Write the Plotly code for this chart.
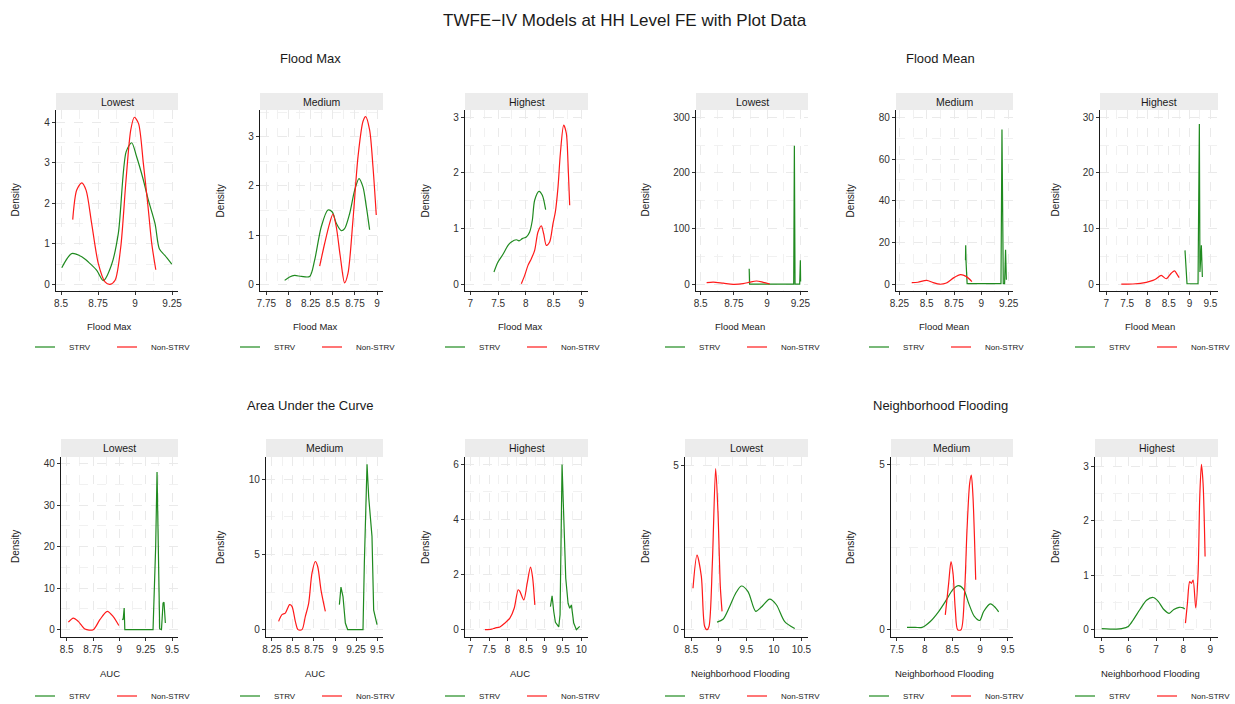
import plotly.graph_objects as go

# ------------------------------------------------------------------ data
main_title = "TWFE\u2212IV Models at HH Level FE with Plot Data"
group_titles = ["Flood Max", "Flood Mean", "Area Under the Curve", "Neighborhood Flooding"]
x_titles = ["Flood Max", "Flood Mean", "AUC", "Neighborhood Flooding"]
facets = ["Lowest", "Medium", "Highest"]
series_names = ["STRV", "Non-STRV"]
y_title = "Density"

# Flood Max
fmax_low_strv_x = [8.505, 8.572, 8.64, 8.685, 8.74, 8.786, 8.84, 8.887, 8.94, 8.977, 9.01, 9.056, 9.09, 9.135, 9.164, 9.2, 9.248]
fmax_low_strv_y = [0.41, 0.76, 0.68, 0.55, 0.35, 0.09, 0.47, 1.26, 3.28, 3.5, 3.16, 2.58, 2.08, 1.5, 0.88, 0.72, 0.5]
fmax_low_non_x = [8.579, 8.606, 8.64, 8.669, 8.707, 8.752, 8.797, 8.831, 8.865, 8.903, 8.939, 8.971, 8.995, 9.023, 9.056, 9.09, 9.113, 9.14]
fmax_low_non_y = [1.6, 2.33, 2.51, 2.33, 1.5, 0.51, 0.06, 0.0, 0.1, 0.91, 2.58, 3.82, 4.13, 3.98, 2.99, 1.83, 1.0, 0.36]

fmax_med_strv_x = [7.957, 8.013, 8.07, 8.145, 8.239, 8.295, 8.37, 8.445, 8.494, 8.539, 8.596, 8.633, 8.69, 8.746, 8.795, 8.84, 8.878, 8.915]
fmax_med_strv_y = [0.08, 0.15, 0.18, 0.16, 0.16, 0.49, 1.17, 1.51, 1.47, 1.24, 1.09, 1.13, 1.44, 1.91, 2.15, 1.98, 1.58, 1.11]
fmax_med_non_x = [8.352, 8.408, 8.464, 8.502, 8.539, 8.585, 8.633, 8.671, 8.727, 8.784, 8.84, 8.87, 8.915, 8.953, 8.99]
fmax_med_non_y = [0.37, 0.83, 1.24, 1.43, 1.17, 0.56, 0.03, 0.22, 1.30, 2.59, 3.31, 3.41, 3.14, 2.39, 1.41]

fmax_high_strv_x = [7.426, 7.498, 7.589, 7.679, 7.739, 7.829, 7.877, 7.937, 8.009, 8.069, 8.117, 8.159, 8.237, 8.297, 8.357]
fmax_high_strv_y = [0.22, 0.40, 0.54, 0.70, 0.76, 0.80, 0.78, 0.82, 0.85, 0.94, 1.15, 1.51, 1.67, 1.60, 1.34]
fmax_high_non_x = [7.919, 7.979, 8.039, 8.099, 8.159, 8.219, 8.279, 8.321, 8.369, 8.429, 8.489, 8.532, 8.58, 8.622, 8.682, 8.73, 8.76, 8.79]
fmax_high_non_y = [0.01, 0.16, 0.34, 0.46, 0.61, 0.94, 1.05, 0.91, 0.70, 0.76, 1.09, 1.30, 1.75, 2.35, 2.86, 2.71, 2.17, 1.42]

# Flood Mean
fmean_low_strv_x = [8.865, 8.868, 9.200, 9.205, 9.210, 9.245, 9.250, 9.252]
fmean_low_strv_y = [28, 0.5, 0.5, 249, 0.5, 0.5, 43, 5]
fmean_low_non_x = [8.545, 8.595, 8.67, 8.745, 8.82, 8.87, 8.92, 8.97, 9.02]
fmean_low_non_y = [3, 4, 2, 0, 1.2, 4, 6, 3.6, 0.6]

fmean_med_strv_x = [8.855, 8.857, 8.860, 8.870, 9.180, 9.189, 9.201, 9.213, 9.222, 9.229]
fmean_med_strv_y = [11.5, 18.7, 11, 0.3, 0.3, 74.2, 0.3, 0.3, 16.6, 2.2]
fmean_med_non_x = [8.363, 8.42, 8.50, 8.56, 8.62, 8.68, 8.75, 8.81, 8.86, 8.914]
fmean_med_non_y = [0.8, 1.0, 1.9, 0.8, 0.05, 0.6, 3.2, 4.6, 3.8, 1.3]

fmean_high_strv_x = [8.891, 8.939, 9.204, 9.236, 9.25, 9.284, 9.308]
fmean_high_strv_y = [6.1, 0.1, 0.1, 28.8, 2.2, 7.0, 1.3]
fmean_high_non_x = [7.36, 7.64, 7.96, 8.12, 8.2, 8.32, 8.44, 8.56, 8.64, 8.7, 8.75]
fmean_high_non_y = [0.02, 0.06, 0.35, 0.7, 1.0, 1.6, 1.0, 2.0, 2.4, 1.8, 1.2]

# AUC
auc_low_strv_x = [9.027, 9.036, 9.046, 9.052, 9.32, 9.345, 9.358, 9.37, 9.383, 9.40, 9.415, 9.424, 9.437]
auc_low_strv_y = [2.6, 2.4, 5.2, 0, 0, 20, 38, 16, 0.2, 0, 6.4, 6.6, 1.6]
auc_low_non_x = [8.516, 8.563, 8.61, 8.673, 8.752, 8.815, 8.885, 8.94, 8.995]
auc_low_non_y = [1.8, 2.8, 2.0, 0.16, 0, 2.4, 4.4, 3.2, 1.0]

auc_med_strv_x = [9.052, 9.071, 9.095, 9.123, 9.151, 9.333, 9.349, 9.381, 9.401, 9.421, 9.44, 9.46, 9.5]
auc_med_strv_y = [1.66, 2.83, 2.2, 0.44, 0, 0, 4.4, 11.0, 8.8, 7.4, 6.2, 1.3, 0.33]
auc_med_non_x = [8.329, 8.369, 8.409, 8.46, 8.488, 8.528, 8.56, 8.607, 8.647, 8.687, 8.726, 8.766, 8.794, 8.833, 8.885]
auc_med_non_y = [0.55, 1.0, 1.1, 1.66, 1.55, 0.55, 0, 0, 0.88, 1.77, 3.75, 4.53, 4.2, 2.65, 1.21]

auc_high_strv_x = [9.162, 9.207, 9.252, 9.297, 9.387, 9.423, 9.477, 9.523, 9.577, 9.64, 9.685, 9.73, 9.793, 9.865, 9.955]
auc_high_strv_y = [0.84, 1.23, 0.66, 0.27, 0.1, 0.54, 6.0, 4.2, 1.87, 0.96, 0.78, 0.9, 0.24, 0, 0.12]
auc_high_non_x = [7.387, 7.568, 7.658, 7.793, 7.928, 8.063, 8.18, 8.288, 8.33, 8.441, 8.532, 8.622, 8.676, 8.739]
auc_high_non_y = [0, 0.02, 0.06, 0.1, 0.24, 0.42, 0.78, 1.45, 1.40, 1.08, 1.69, 2.27, 1.93, 0.9]

# Neighborhood Flooding
nf_low_strv_x = [8.967, 9.076, 9.197, 9.306, 9.409, 9.53, 9.67, 9.773, 9.924, 10.045, 10.197, 10.379]
nf_low_strv_y = [0.23, 0.32, 0.71, 1.11, 1.33, 1.16, 0.56, 0.69, 0.93, 0.76, 0.25, 0.04]
nf_low_non_x = [8.53, 8.603, 8.682, 8.742, 8.785, 8.821, 8.882, 8.942, 8.985, 9.027, 9.058]
nf_low_non_y = [1.26, 2.27, 1.62, 0.1, 0, 0.1, 2.02, 4.9, 3.54, 1.31, 0.56]

nf_med_strv_x = [7.681, 7.831, 7.952, 8.102, 8.253, 8.392, 8.512, 8.614, 8.705, 8.795, 8.898, 8.994, 9.066, 9.187, 9.259, 9.337]
nf_med_strv_y = [0.07, 0.07, 0.07, 0.25, 0.55, 0.9, 1.22, 1.33, 1.22, 0.8, 0.4, 0.28, 0.55, 0.78, 0.7, 0.54]
nf_med_non_x = [8.373, 8.434, 8.476, 8.512, 8.554, 8.596, 8.657, 8.717, 8.765, 8.813, 8.843, 8.873, 8.922]
nf_med_non_y = [0.45, 1.41, 2.06, 1.71, 0.6, 0, 0, 1.0, 3.01, 4.42, 4.67, 4.02, 1.51]

nf_high_strv_x = [5.0, 5.55, 5.734, 5.979, 6.162, 6.407, 6.651, 6.896, 7.08, 7.287, 7.483, 7.654, 7.85, 7.997, 8.058]
nf_high_strv_y = [0.02, 0.01, 0.02, 0.06, 0.18, 0.37, 0.54, 0.59, 0.52, 0.37, 0.3, 0.37, 0.41, 0.4, 0.38]
nf_high_non_x = [8.083, 8.156, 8.24, 8.303, 8.364, 8.462, 8.547, 8.609, 8.67, 8.731, 8.805]
nf_high_non_y = [0.12, 0.49, 0.88, 0.85, 0.91, 0.4, 1.03, 2.43, 3.03, 2.68, 1.34]

# tick labels per panel
xticks = [
    [8.5, 8.75, 9, 9.25], [7.75, 8, 8.25, 8.5, 8.75, 9], [7, 7.5, 8, 8.5, 9],
    [8.5, 8.75, 9, 9.25], [8.25, 8.5, 8.75, 9, 9.25], [7, 7.5, 8, 8.5, 9, 9.5],
    [8.5, 8.75, 9, 9.25, 9.5], [8.25, 8.5, 8.75, 9, 9.25, 9.5], [7, 7.5, 8, 8.5, 9, 9.5, 10],
    [8.5, 9, 9.5, 10, 10.5], [7.5, 8, 8.5, 9, 9.5], [5, 6, 7, 8, 9],
]
yticks = [
    [0, 1, 2, 3, 4], [0, 1, 2, 3], [0, 1, 2, 3],
    [0, 100, 200, 300], [0, 20, 40, 60, 80], [0, 10, 20, 30],
    [0, 10, 20, 30, 40], [0, 5, 10], [0, 2, 4, 6],
    [0, 5], [0, 5], [0, 1, 2, 3],
]

series = [
    (fmax_low_strv_x, fmax_low_strv_y, fmax_low_non_x, fmax_low_non_y),
    (fmax_med_strv_x, fmax_med_strv_y, fmax_med_non_x, fmax_med_non_y),
    (fmax_high_strv_x, fmax_high_strv_y, fmax_high_non_x, fmax_high_non_y),
    (fmean_low_strv_x, fmean_low_strv_y, fmean_low_non_x, fmean_low_non_y),
    (fmean_med_strv_x, fmean_med_strv_y, fmean_med_non_x, fmean_med_non_y),
    (fmean_high_strv_x, fmean_high_strv_y, fmean_high_non_x, fmean_high_non_y),
    (auc_low_strv_x, auc_low_strv_y, auc_low_non_x, auc_low_non_y),
    (auc_med_strv_x, auc_med_strv_y, auc_med_non_x, auc_med_non_y),
    (auc_high_strv_x, auc_high_strv_y, auc_high_non_x, auc_high_non_y),
    (nf_low_strv_x, nf_low_strv_y, nf_low_non_x, nf_low_non_y),
    (nf_med_strv_x, nf_med_strv_y, nf_med_non_x, nf_med_non_y),
    (nf_high_strv_x, nf_high_strv_y, nf_high_non_x, nf_high_non_y),
]

# ------------------------------------------------------------------ layout / style
W, H = 1235, 704
FONT = "Liberation Sans Narrow, Arial Narrow, Liberation Sans, Arial, sans-serif"
GREEN = "#1f8a1f"
RED = "#ff1a1a"
GRID = "#eaeaea"
MINOR = "#f1f1f1"
STRIP = "#ececec"
TXT = "#1a1a1a"

# panel pixel boxes (x0, x1); rows: (strip_top, plot_top, plot_bottom, xtitle_y, legend_y)
panel_px = [(56, 178), (260, 383), (465, 588), (696, 808), (896, 1013), (1100, 1218),
            (61, 178), (266, 383), (465, 588), (685, 808), (891, 1013), (1095, 1218)]
rows = [(93, 110, 291, 326, 347), (439, 457, 637, 673, 696)]
cell_centers = [110, 315, 520, 740, 944, 1150]
dens_x = [15, 220, 425, 645, 850, 1055]
xranges = [(8.466, 9.29), (7.679, 9.066), (6.904, 9.12), (8.465, 9.3075), (8.219, 9.29), (6.848, 9.684),
           (8.446, 9.557), (8.179, 9.571), (6.847, 10.18), (8.385, 10.62), (7.392, 9.596), (4.755, 9.28)]
yranges = [(-0.165, 4.31), (-0.136, 3.544), (-0.12, 3.13), (-12, 313), (-3.2, 83.5), (-1.2, 31.3),
           (-1.76, 41.6), (-0.49, 11.48), (-0.265, 6.27), (-0.22, 5.25), (-0.22, 5.22), (-0.134, 3.165)]
shapes_kind = [("spline", "spline"), ("spline", "spline"), ("spline", "spline"),
               ("linear", "spline"), ("linear", "spline"), ("linear", "spline"),
               ("linear", "spline"), ("linear", "spline"), ("linear", "spline"),
               ("spline", "spline"), ("spline", "spline"), ("spline", "spline")]


def px_x(p):
    return p / W


def px_y(p):
    return 1 - p / H


def minor_vals(ticks, rng):
    step = ticks[1] - ticks[0]
    vals = [ticks[0] - step / 2] + [t + step / 2 for t in ticks]
    return [v for v in vals if rng[0] <= v <= rng[1]]


fig = go.Figure()
layout = dict(
    width=W, height=H, margin=dict(l=0, r=0, t=0, b=0, autoexpand=False),
    plot_bgcolor="white", paper_bgcolor="white",
    font=dict(family=FONT, color=TXT),
    showlegend=False,
)
shapes = []
annotations = []


def axis_style(domain, anchor, rng, ticks):
    return dict(
        domain=domain, anchor=anchor, range=list(rng),
        tickmode="array", tickvals=ticks, ticktext=[f"{v:g}" for v in ticks],
        tickangle=0,
        showgrid=True, gridcolor=GRID, griddash="dash", gridwidth=1,
        minor=dict(tickmode="array", tickvals=minor_vals(ticks, rng),
                   showgrid=True, gridcolor=MINOR, griddash="dash", gridwidth=1, ticklen=0),
        zeroline=False, showline=True, linecolor=TXT, linewidth=1.3,
        ticks="outside", ticklen=3, tickcolor="#333", tickwidth=1,
        tickfont=dict(size=10, color="#303030", family=FONT),
    )


for i in range(12):
    n = i + 1
    suf = "" if n == 1 else str(n)
    xref, yref = "x" + suf, "y" + suf
    row = 0 if i < 6 else 1
    col = i % 6
    strip_top, plot_top, plot_bot, xt_y, lg_y = rows[row]
    x0, x1 = panel_px[i]

    layout["xaxis" + suf] = axis_style([px_x(x0), px_x(x1)], yref, xranges[i], xticks[i])
    layout["yaxis" + suf] = axis_style([px_y(plot_bot), px_y(plot_top)], xref, yranges[i], yticks[i])

    sx, sy, nx, ny = series[i]
    ks, kn = shapes_kind[i]
    fig.add_trace(go.Scatter(x=sx, y=sy, mode="lines", name=series_names[0],
                             line=dict(color=GREEN, width=1.2, shape=ks, smoothing=0.8),
                             xaxis=xref, yaxis=yref, hoverinfo="skip"))
    fig.add_trace(go.Scatter(x=nx, y=ny, mode="lines", name=series_names[1],
                             line=dict(color=RED, width=1.2, shape=kn, smoothing=0.8),
                             xaxis=xref, yaxis=yref, hoverinfo="skip"))

    # facet strip
    shapes.append(dict(type="rect", xref="paper", yref="paper",
                       x0=px_x(x0), x1=px_x(x1), y0=px_y(plot_top), y1=px_y(strip_top),
                       fillcolor=STRIP, line=dict(width=0), layer="below"))
    annotations.append(dict(text=facets[col % 3], xref="paper", yref="paper",
                            x=px_x((x0 + x1) / 2), y=px_y((strip_top + plot_top) / 2),
                            xanchor="center", yanchor="middle", showarrow=False,
                            font=dict(size=10.5, family=FONT, color=TXT)))
    # axis titles
    group = row * 2 + col // 3
    annotations.append(dict(text=x_titles[group], xref="paper", yref="paper",
                            x=px_x(cell_centers[col]), y=px_y(xt_y),
                            xanchor="center", yanchor="middle", showarrow=False,
                            font=dict(size=9.5, family=FONT, color=TXT)))
    annotations.append(dict(text=y_title, xref="paper", yref="paper", textangle=-90,
                            x=px_x(dens_x[col]), y=px_y((plot_top + plot_bot) / 2),
                            xanchor="center", yanchor="middle", showarrow=False,
                            font=dict(size=10, family=FONT, color=TXT)))
    # legend (key lines + labels) under each panel
    c = cell_centers[col]
    for k, (lx, color) in enumerate([(c - 75, GREEN), (c + 7, RED)]):
        shapes.append(dict(type="line", xref="paper", yref="paper",
                           x0=px_x(lx), x1=px_x(lx + 20), y0=px_y(lg_y), y1=px_y(lg_y),
                           line=dict(color=color, width=1.2)))
        annotations.append(dict(text=series_names[k], xref="paper", yref="paper",
                                x=px_x(lx + 32), y=px_y(lg_y), xanchor="left", yanchor="middle",
                                showarrow=False, font=dict(size=8, family=FONT, color=TXT)))

# group titles and main title
group_pos = [(310, 58), (940, 58), (310, 405), (940, 405)]
for g, (gx, gy) in enumerate(group_pos):
    annotations.append(dict(text=group_titles[g], xref="paper", yref="paper",
                            x=px_x(gx), y=px_y(gy), xanchor="center", yanchor="middle",
                            showarrow=False, font=dict(size=13, family=FONT, color=TXT)))
annotations.append(dict(text=main_title, xref="paper", yref="paper",
                        x=px_x(625), y=px_y(20), xanchor="center", yanchor="middle",
                        showarrow=False, font=dict(size=17, family=FONT, color=TXT)))

layout["shapes"] = shapes
layout["annotations"] = annotations
fig.update_layout(**layout)
fig.write_html("out.html", config={"displayModeBar": False},
               post_script="document.body.style.margin='0px';")
